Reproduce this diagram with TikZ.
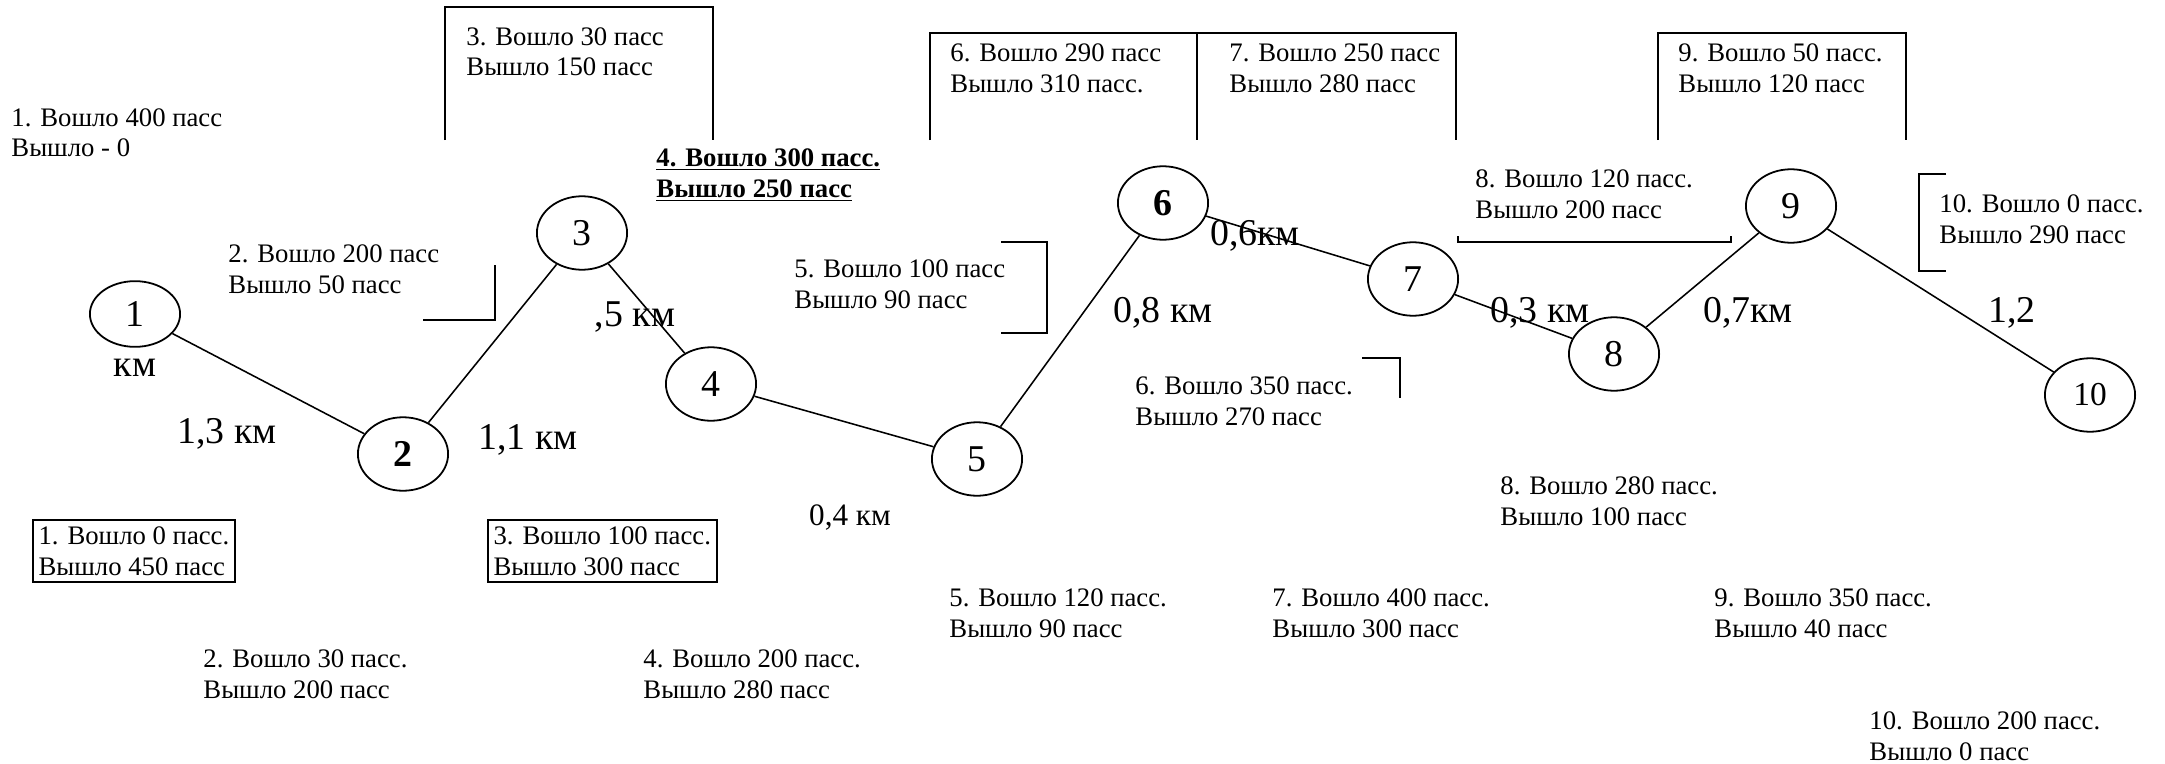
\documentclass[tikz,border=0pt]{standalone}
\usepackage{fontspec}
\setmainfont{Liberation Serif}
\usetikzlibrary{shapes.geometric, positioning}
\tikzset{
	x=0.449pt,
	y=-0.449pt,
	station/.style={ellipse, draw, line width=0.8pt, minimum width=40.5pt, minimum height=33pt, inner sep=0pt, font=\fontsize{17}{20}\selectfont},
	pass/.style={anchor=base west, align=left, inner sep=0pt, font=\fontsize{12}{13.9}\selectfont},
	passbox/.style={pass, draw, line width=0.9pt, inner xsep=2.5pt, inner ysep=3pt},
	dist/.style={inner sep=0pt, font=\fontsize{17}{20}\selectfont},
	frame/.style={line width=1pt},
	route/.style={line width=0.7pt}
}
\newcommand{\bu}[1]{\textbf{\underline{#1}}}

\begin{document}
\begin{tikzpicture}
	\useasboundingbox (0,0) rectangle (2165,763);
	
	\node[station, minimum height=29.5pt] (st1) at (135,314) {1};
	\node[station] (st2) at (403,454) {\textbf{2}};
	\node[station] (st3) at (582,233) {3};
	\node[station] (st4) at (711,384) {4};
	\node[station] (st5) at (977,459) {5};
	\node[station] (st6) at (1163,203) {\textbf{6}};
	\node[station] (st7) at (1413,279) {7};
	\node[station] (st8) at (1614,354) {8};
	\node[station] (st9) at (1791,206) {9};
	\node[station, font=\fontsize{15}{18}\selectfont] (st10) at (2090,395) {10};
	
	\node[dist, below=5pt of st1] (km1) {км};
	\node[dist] (d12) at (227,434) {1,3 км};
	\node[dist] (d23) at (528,440) {1,1 км};
	\node[dist] (d34) at (635,317) {,5 км};
	\node[dist, font=\fontsize{14}{16}\selectfont] (d45) at (850,518) {0,4 км};
	\node[dist] (d56) at (1163,313) {0,8 км};
	\node[dist] (d67) at (1255,236) {0,6км};
	\node[dist] (d78) at (1540,313) {0,3 км};
	\node[dist] (d89) at (1748,313) {0,7км};
	\node[dist] (d910) at (2012,313) {1,2};
	
	\node[pass] (up1) at (11,157) {1. Вошло 400 пасс\\Вышло - 0};
	\node[pass] (up3) at (466,76) {3. Вошло 30 пасс\\Вышло 150 пасс};
	\node[pass] (up4) at (656,197) {\bu{4. Вошло 300 пасс.}\\\bu{Вышло 250 пасс}};
	\node[pass] (up6) at (950,92) {6. Вошло 290 пасс\\Вышло 310 пасс.};
	\node[pass] (up7) at (1229,92) {7. Вошло 250 пасс\\Вышло 280 пасс};
	\node[pass] (up9) at (1678,92) {9. Вошло 50 пасс.\\Вышло 120 пасс};
	
	\node[pass] (mid2) at (228,293) {2. Вошло 200 пасс\\Вышло 50 пасс};
	\node[pass] (mid5) at (794,308) {5. Вошло 100 пасс\\Вышло 90 пасс};
	\node[pass] (mid8) at (1475,218) {8. Вошло 120 пасс.\\Вышло 200 пасс};
	\node[pass] (mid10) at (1939,243) {10. Вошло 0 пасс.\\Вышло 290 пасс};
	\node[pass] (mid6) at (1135,425) {6. Вошло 350 пасс.\\Вышло 270 пасс};
	\node[pass] (low8) at (1500,525) {8. Вошло 280 пасс.\\Вышло 100 пасс};
	
	\node[passbox] (box1) at (32,575) {1. Вошло 0 пасс.\\Вышло 450 пасс};
	\node[passbox] (box3) at (487,575) {3. Вошло 100 пасс.\\Вышло 300 пасс};
	
	\node[pass] (dn2) at (203,698) {2. Вошло 30 пасс.\\Вышло 200 пасс};
	\node[pass] (dn4) at (643,698) {4. Вошло 200 пасс.\\Вышло 280 пасс};
	\node[pass] (dn5) at (949,637) {5. Вошло 120 пасс.\\Вышло 90 пасс};
	\node[pass] (dn7) at (1272,637) {7. Вошло 400 пасс.\\Вышло 300 пасс};
	\node[pass] (dn9) at (1714,637) {9. Вошло 350 пасс.\\Вышло 40 пасс};
	\node[pass] (dn10) at (1869,760) {10. Вошло 200 пасс.\\Вышло 0 пасс};
	
	\draw[route]
	(st1) edge (st2)
	(st2) edge (st3)
	(st3) edge (st4)
	(st4) edge (st5)
	(st5) edge (st6)
	(st6) edge (st7)
	(st7) edge (st8)
	(st8) edge (st9)
	(st9) edge (st10)
	;
	
	\draw[frame] (445,140) -- (445,7) -- (713,7) -- (713,140);
	\draw[frame] (930,140) -- (930,33) -- (1456,33) -- (1456,140) (1197,33) -- (1197,140);
	\draw[frame] (1658,140) -- (1658,33) -- (1906,33) -- (1906,140);
	
	\draw[frame] (423,320) -- (495,320) -- (495,265);
	\draw[frame] (1001,242) -- (1047,242) -- (1047,333) -- (1001,333);
	\draw[frame] (1362,358) -- (1400,358) -- (1400,398);
	\draw[frame] (1458,236) -- (1458,242) -- (1731,242) -- (1731,236);
	\draw[frame] (1946,174) -- (1919,174) -- (1919,271) -- (1946,271);
\end{tikzpicture}
\end{document}
